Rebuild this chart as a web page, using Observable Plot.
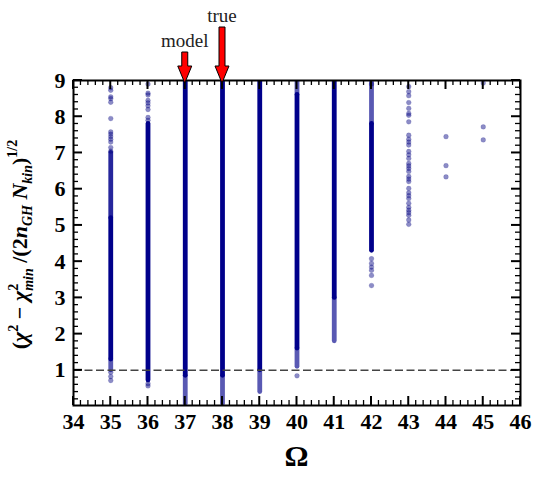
<!DOCTYPE html>
<html><head><meta charset="utf-8">
<script src="https://cdn.jsdelivr.net/npm/d3@7"></script>
<script src="https://cdn.jsdelivr.net/npm/@observablehq/plot@0.6"></script>
<style>body{margin:0;background:#fff}</style>
</head><body><div id="chart"></div>
<script>
// ---------- data ----------
const xTicks = [34, 35, 36, 37, 38, 39, 40, 41, 42, 43, 44, 45, 46];
const yTicks = [1, 2, 3, 4, 5, 6, 7, 8, 9];

// dense (overlapping) runs of points per Omega column
const segOmega = [35,   35,  35,  36,   37,   37,   38,   38,   39,  39,  40,  40,  40,  41,  41,  42,  42];
const segLow   = [1.3,  5.2, 1.0, 0.72, 0.85, 0.08, 0.85, 0.08, 1.0, 0.4, 1.6, 1.1, 8.6, 3.0, 1.8, 4.3, 7.8];
const segHigh  = [5.2,  7.0, 1.3, 7.8,  9.0,  0.85, 9.0,  0.85, 9.0, 1.0, 8.6, 1.6, 9.0, 9.0, 3.0, 7.8, 8.95];
const segTone  = ["dark","mid","light","dark","dark","light","dark","light","dark","light","dark","light","light","dark","light","dark","light"];

// isolated points
const dots35 = [0.72, 0.83, 0.95, 7.05, 7.15, 7.3, 7.38, 7.45, 7.52, 7.58, 7.95, 8.4, 8.5, 8.55, 8.73, 8.8];
const dots36 = [0.57, 0.63, 7.9, 7.98, 8.2, 8.3, 8.38, 8.45, 8.6, 8.65, 8.9];
const dots40 = [0.85];
const dots42 = [3.34, 3.62, 3.76, 3.85, 3.95, 4.08, 8.9];
const dots43 = [5.03, 5.15, 5.28, 5.35, 5.42, 5.5, 5.61, 5.74, 5.82, 5.9, 6.02, 6.21, 6.28, 6.35, 6.49, 6.57, 6.64, 6.71, 6.85, 6.95, 7.04, 7.22, 7.3, 7.38, 7.49, 7.86, 8.04, 8.09, 8.23, 8.39, 8.58, 8.69, 8.83];
const dots44 = [6.34, 6.65, 7.45];
const dots45 = [7.36, 7.72, 8.93];

const arrowOmega  = [37, 38];
const arrowLabels = ["model", "true"];
const refLine = [1];

// ---------- build tables ----------
const segments = segOmega.map((o, i) => ({omega: o, low: segLow[i], high: segHigh[i], tone: segTone[i]}));
const dotGroups = [[35, dots35], [36, dots36], [40, dots40], [42, dots42], [43, dots43], [44, dots44], [45, dots45]];
const dots = dotGroups.flatMap(([o, vals]) => vals.map(v => ({omega: o, value: v})));

const navyDark = "#00008b";
const segMark = (tone, op) => Plot.ruleX(segments.filter(d => d.tone === tone), {
  x: "omega", y1: "low", y2: "high", stroke: navyDark, strokeOpacity: op,
  strokeWidth: 4.8, strokeLinecap: "round", clip: true
});

const plot = Plot.plot({
  width: 540, height: 477,
  marginLeft: 73, marginRight: 20, marginTop: 80, marginBottom: 72,
  x: {domain: [34, 46]},
  y: {domain: [0.03, 9]},
  style: {background: "white", color: "black"},
  marks: [
    segMark("dark", 1),
    segMark("mid", 0.85),
    segMark("light", 0.65),
    Plot.dot(dots, {x: "omega", y: "value", r: 2.4, fill: "navy", fillOpacity: 0.45, stroke: "navy", strokeOpacity: 0.25, strokeWidth: 0.6, clip: true}),
    Plot.ruleY(refLine, {stroke: "#444", strokeWidth: 1.5, strokeDasharray: "8,3.5"}),
    Plot.axisX(xTicks, {tickSize: 0, tickPadding: 8, label: null}),
    Plot.axisY(yTicks, {tickSize: 0, tickPadding: 8, label: null}),
    Plot.frame({stroke: "black", strokeWidth: 2})
  ]
});
document.getElementById("chart").appendChild(plot);
plot.querySelectorAll("text").forEach(t => {
  t.setAttribute("font-weight", "700");
  t.setAttribute("font-family", "'Liberation Serif', serif");
  t.setAttribute("font-size", "22");
  t.style.fontWeight = "700";
  t.style.fontFamily = "'Liberation Serif', serif";
  t.style.fontSize = "22px";
});
const svg = d3.select(plot);

// ---------- inward ticks on all four sides ----------
const sx = plot.scale("x"), sy = plot.scale("y");
const [xl, xr] = sx.range, [yb, yt] = sy.range;
const tg = svg.append("g").attr("stroke", "black");
const xMinor = d3.range(34, 46.001, 0.2).filter(v => Math.abs(v - Math.round(v)) > 1e-6);
const yMinor = d3.range(0.2, 9, 0.2).filter(v => Math.abs(v - Math.round(v)) > 1e-6);
function xt(vals, len, w) {
  vals.forEach(v => {
    const px = sx.apply(v);
    tg.append("line").attr("x1", px).attr("x2", px).attr("y1", yb).attr("y2", yb - len).attr("stroke-width", w);
    tg.append("line").attr("x1", px).attr("x2", px).attr("y1", yt).attr("y2", yt + len).attr("stroke-width", w);
  });
}
function yt_(vals, len, w) {
  vals.forEach(v => {
    const py = sy.apply(v);
    tg.append("line").attr("y1", py).attr("y2", py).attr("x1", xl).attr("x2", xl + len).attr("stroke-width", w);
    tg.append("line").attr("y1", py).attr("y2", py).attr("x1", xr).attr("x2", xr - len).attr("stroke-width", w);
  });
}
xt(xTicks, 9, 2); xt(xMinor, 5, 1.3);
yt_(yTicks, 9, 2); yt_(yMinor, 5, 1.3);

// ---------- arrows with labels ----------
const ag = svg.append("g");
const shaftTop = [52, 27];
arrowOmega.forEach((o, i) => {
  const cx = sx.apply(o);
  const top = shaftTop[i], base = 66, tip = yt + 3, sw = 3, hw = 7;
  ag.append("path")
    .attr("d", `M${cx - sw},${top}L${cx + sw},${top}L${cx + sw},${base}L${cx + hw},${base}L${cx},${tip}L${cx - hw},${base}L${cx - sw},${base}Z`)
    .attr("fill", "#ff0000").attr("stroke", "black").attr("stroke-width", 1);
  ag.append("text").attr("x", cx).attr("y", top - 5)
    .attr("text-anchor", "middle").attr("font-family", "'Liberation Serif', serif")
    .style("font-weight", "normal")
    .attr("font-size", 19).attr("fill", "#222").text(arrowLabels[i]);
});

// ---------- axis titles ----------
svg.append("text").attr("x", (xl + xr) / 2).attr("y", 466)
  .attr("text-anchor", "middle").attr("font-family", "'Liberation Serif', serif")
  .style("font-weight", "bold").attr("font-size", 30).text("Ω");

const yl = svg.append("text")
  .attr("transform", `translate(27,${(yb + yt) / 2 + 2}) rotate(-90)`)
  .attr("text-anchor", "middle").attr("font-family", "'Liberation Serif', serif")
  .style("font-weight", "bold").attr("font-size", 22);
const parts = [
  ["(", {}], ["χ", {style: "italic"}], ["2", {size: 14, dy: -9}],
  [" − ", {dy: 9}], ["χ", {style: "italic"}], ["2", {size: 14, dy: -9}],
  ["min", {size: 14, style: "italic", dy: 15, dx: -7}], [" /(2", {dy: -6}],
  ["n", {style: "italic"}], ["GH", {size: 14, style: "italic", dy: 5}],
  [" N", {style: "italic", dy: -5}], ["kin", {size: 14, style: "italic", dy: 5}],
  [")", {dy: -5}], ["1/2", {size: 14, dy: -10}]
];
parts.forEach(([t, o]) => {
  const ts = yl.append("tspan").text(t);
  if (o.size) ts.attr("font-size", o.size);
  if (o.style) ts.attr("font-style", o.style);
  if (o.dy) ts.attr("dy", o.dy);
  if (o.dx) ts.attr("dx", o.dx);
});
</script>
</body></html>
